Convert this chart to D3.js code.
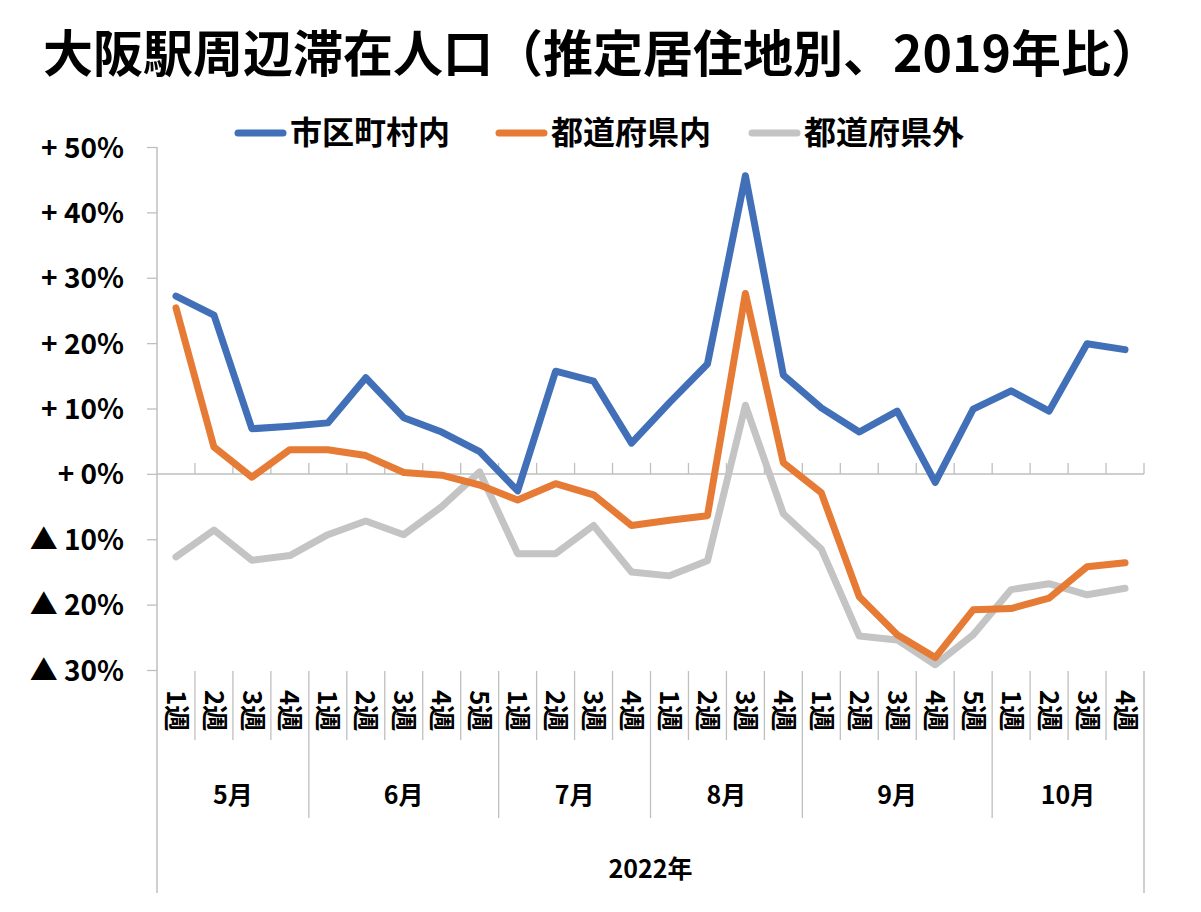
<!DOCTYPE html>
<html><head><meta charset="utf-8">
<script src="https://cdn.jsdelivr.net/npm/d3@7"></script>
<style>
html,body{margin:0;padding:0;background:#fff;}
text{font-family:"Noto Sans CJK JP","Noto Sans",sans-serif;font-weight:700;fill:#000;}
</style></head><body>
<svg id="c" width="1201" height="912"></svg>
<script>
const title = "大阪駅周辺滞在人口（推定居住地別、2019年比）";
const weeks = ["1週","2週","3週","4週","1週","2週","3週","4週","5週","1週","2週","3週","4週","1週","2週","3週","4週","1週","2週","3週","4週","5週","1週","2週","3週","4週"];
const months = ["5月","6月","7月","8月","9月","10月"];
const monthWeeks = [4,5,4,4,5,4];
const yearLabel = "2022年";
const seriesNames = ["市区町村内","都道府県内","都道府県外"];
const seriesColors = ["#4170B8","#E67B35","#C3C4C3"];
const city = [27.2,24.3,6.9,7.3,7.8,14.7,8.6,6.4,3.4,-2.6,15.7,14.2,4.7,10.9,16.8,45.6,15.1,10.1,6.4,9.6,-1.3,9.9,12.7,9.6,19.9,19.0];
const pref = [25.4,4.1,-0.5,3.7,3.7,2.8,0.2,-0.2,-1.7,-4.0,-1.5,-3.2,-7.9,-7.1,-6.4,27.6,1.7,-2.9,-18.8,-24.6,-28.1,-20.8,-20.6,-19.0,-14.2,-13.6];
const outside = [-12.7,-8.6,-13.2,-12.5,-9.3,-7.2,-9.3,-5.0,0.3,-12.2,-12.2,-7.9,-15.0,-15.6,-13.3,10.5,-6.1,-11.5,-24.8,-25.4,-29.2,-24.6,-17.7,-16.8,-18.5,-17.5];
const yTicks = [50,40,30,20,10,0,-10,-20,-30];
const yTickLabels = ["+ 50%","+ 40%","+ 30%","+ 20%","+ 10%","+ 0%","▲ 10%","▲ 20%","▲ 30%"];

const svg = d3.select("#c");
const L = 157, R = 1144, T = 147, B = 670;
const axisColor = "#BFBFBF";
const idx = d3.range(weeks.length);
const x = d3.scaleBand().domain(idx).range([L, R]).padding(0);
const y = d3.scaleLinear().domain([-30, 50]).range([B, T]);
const cx = i => x(i) + x.bandwidth() / 2;

// title
svg.append("text").attr("x", 602).attr("y", 72).attr("text-anchor", "middle")
  .style("font-size", "50px").text(title);

// legend
const legX = [235, 496, 749];
seriesNames.forEach((n, i) => {
  const g = svg.append("g");
  g.append("line").attr("x1", legX[i] + 3).attr("x2", legX[i] + 48).attr("y1", 133).attr("y2", 133)
    .attr("stroke", seriesColors[i]).attr("stroke-width", 7).attr("stroke-linecap", "round");
  g.append("text").attr("x", legX[i] + 55).attr("y", 144).style("font-size", "32px").text(n);
});

// y axis ticks + labels
const yAxis = d3.axisLeft(y).tickValues(yTicks).tickSize(10).tickFormat((d, i) => yTickLabels[i]);
const ya = svg.append("g").attr("transform", `translate(${L},0)`).call(yAxis);
ya.select(".domain").remove();
ya.selectAll(".tick line").attr("stroke", axisColor).attr("stroke-width", 1.3);
ya.selectAll(".tick text").attr("x", -33).attr("dy", "0.36em")
  .style("font-size", "28px").style("font-family", "'Noto Sans CJK JP',sans-serif").style("font-weight", 700).attr("fill", "#000");

// vertical axis line incl. label area
svg.append("line").attr("x1", L).attr("x2", L).attr("y1", T).attr("y2", 893).attr("stroke", axisColor).attr("stroke-width", 1.5);
svg.append("line").attr("x1", R).attr("x2", R).attr("y1", B + 1).attr("y2", 893).attr("stroke", axisColor).attr("stroke-width", 1.5);

// zero axis with upward ticks at category boundaries
svg.append("line").attr("x1", L).attr("x2", R).attr("y1", y(0)).attr("y2", y(0)).attr("stroke", axisColor).attr("stroke-width", 1.5);
idx.forEach(i => {
  const bx = x(i) + x.bandwidth();
  svg.append("line").attr("x1", bx).attr("x2", bx).attr("y1", y(0) - 11).attr("y2", y(0)).attr("stroke", axisColor).attr("stroke-width", 1.3);
});

// category label area
const monthStart = [];
let acc = 0;
monthWeeks.forEach(n => { monthStart.push(acc); acc += n; });
idx.forEach(i => {
  if (i > 0) {
    const isMonth = monthStart.includes(i);
    svg.append("line").attr("x1", x(i)).attr("x2", x(i)).attr("y1", B + 1).attr("y2", isMonth ? 818 : 740)
      .attr("stroke", axisColor).attr("stroke-width", 1.3);
  }
  svg.append("text").attr("transform", `translate(${cx(i)},${690}) rotate(90)`)
    .attr("dy", "0.36em").style("font-size", "26px").text(weeks[i]);
});
months.forEach((m, k) => {
  const s = monthStart[k], e = s + monthWeeks[k] - 1;
  const mx = (x(s) + x(e) + x.bandwidth()) / 2;
  svg.append("text").attr("x", mx).attr("y", 804).attr("text-anchor", "middle").style("font-size", "25px").text(m);
});
svg.append("text").attr("x", (L + R) / 2).attr("y", 878).attr("text-anchor", "middle").style("font-size", "25px").text(yearLabel);

// lines
const line = d3.line().x((d, i) => cx(i)).y(d => y(d));
[city, pref, outside].slice().reverse().forEach((s, j) => {
  const i = 2 - j;
  svg.append("path").attr("d", line(s)).attr("fill", "none").attr("stroke", seriesColors[i])
    .attr("stroke-width", 7).attr("stroke-linejoin", "round").attr("stroke-linecap", "round");
});
</script></body></html>
